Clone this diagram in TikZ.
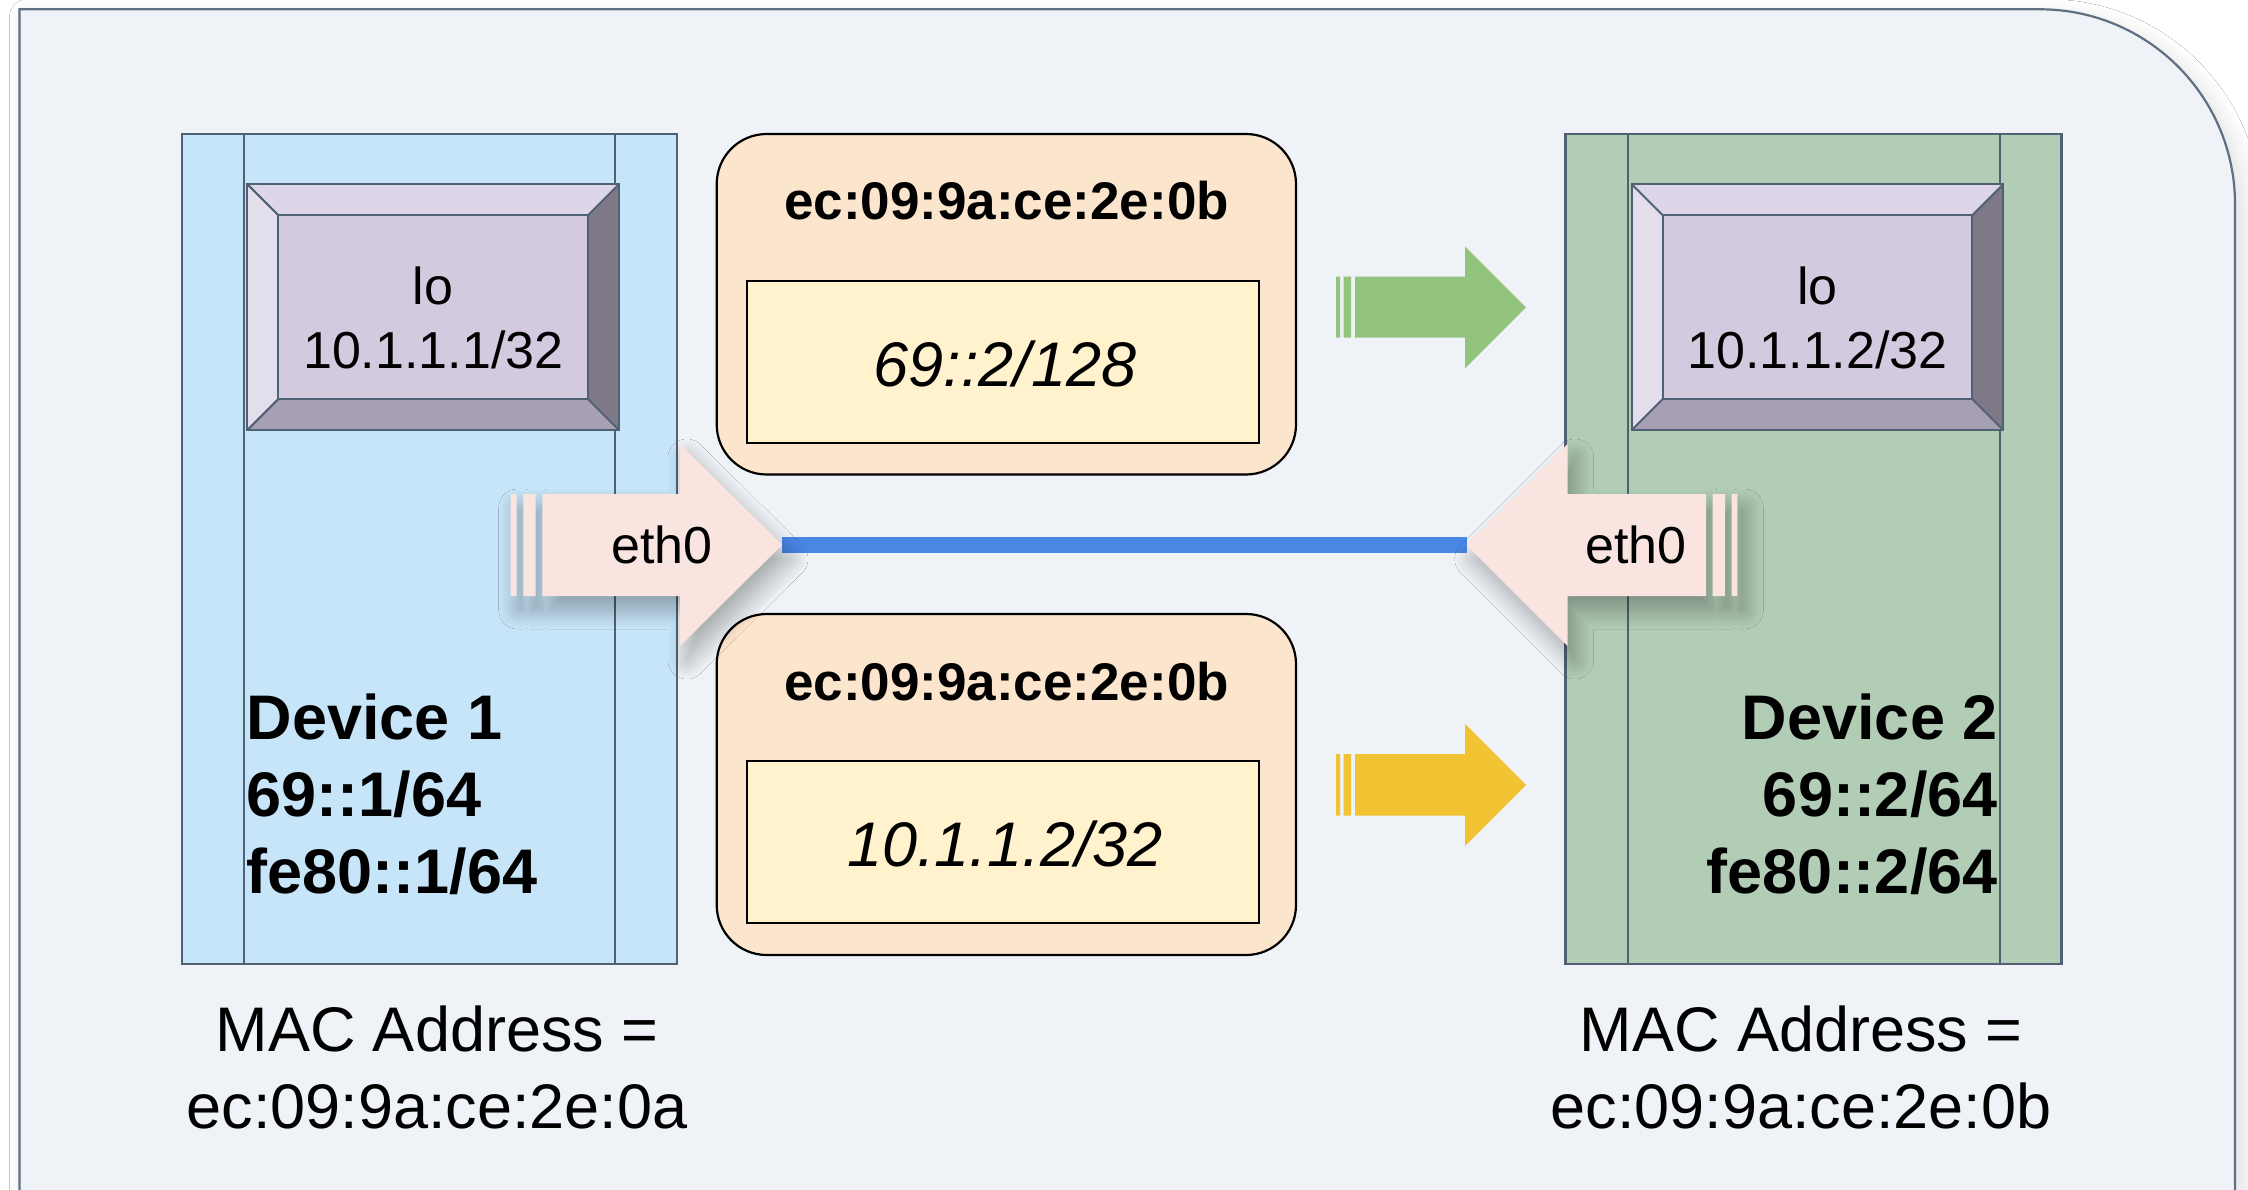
\documentclass[tikz,border=0pt]{standalone}
\usepackage{fontspec}
\setmainfont{Liberation Sans}
\usetikzlibrary{shadows.blur}

\definecolor{bgC}{RGB}{239,243,247}
\definecolor{frameC}{RGB}{95,112,130}
\definecolor{devC}{RGB}{80,97,117}
\definecolor{devOneC}{RGB}{199,229,248}
\definecolor{devTwoC}{RGB}{178,205,182}
\definecolor{bvFace}{RGB}{211,202,224}
\definecolor{bvTop}{RGB}{221,213,232}
\definecolor{bvLeft}{RGB}{227,222,236}
\definecolor{bvRight}{RGB}{127,120,135}
\definecolor{bvBottom}{RGB}{167,159,178}
\definecolor{macBoxC}{RGB}{252,229,205}
\definecolor{ipBoxC}{RGB}{255,242,204}
\definecolor{ethC}{RGB}{250,228,224}
\definecolor{linkC}{RGB}{74,134,228}
\definecolor{greenArrowC}{RGB}{147,196,125}
\definecolor{yellowArrowC}{RGB}{241,194,50}

% bevelled interface box: name, left, top, right, bottom, bevel width
\newcommand\bevelbox[6]{%
  \coordinate (#1-o1) at (#2,#3);
  \coordinate (#1-o2) at (#4,#3);
  \coordinate (#1-o3) at (#4,#5);
  \coordinate (#1-o4) at (#2,#5);
  \coordinate (#1-i1) at ({#2+#6},{#3+#6});
  \coordinate (#1-i2) at ({#4-#6},{#3+#6});
  \coordinate (#1-i3) at ({#4-#6},{#5-#6});
  \coordinate (#1-i4) at ({#2+#6},{#5-#6});
  \fill[bvTop] (#1-o1) -- (#1-o2) -- (#1-i2) -- (#1-i1) -- cycle;
  \fill[bvRight] (#1-o2) -- (#1-o3) -- (#1-i3) -- (#1-i2) -- cycle;
  \fill[bvBottom] (#1-o3) -- (#1-o4) -- (#1-i4) -- (#1-i3) -- cycle;
  \fill[bvLeft] (#1-o4) -- (#1-o1) -- (#1-i1) -- (#1-i4) -- cycle;
  \draw[bvline, fill=bvFace] (#1-i1) rectangle (#1-i3);
  \draw[bvline] (#1-o1) -- (#1-i1) (#1-o2) -- (#1-i2) (#1-o3) -- (#1-i3) (#1-o4) -- (#1-i4);
  \draw[bvline] (#1-o1) rectangle (#1-o3);
}

\begin{document}
\begin{tikzpicture}[x=1pt,y=-1pt,
  every node/.style={inner sep=0pt, outer sep=0pt},
  frame/.style={draw=frameC, line width=2.2pt, fill=bgC,
    blur shadow={shadow xshift=8pt, shadow yshift=-8pt, shadow blur radius=18pt,
      shadow blur steps=30, shadow opacity=13}},
  devbox/.style={draw=devC, line width=2.2pt, rectangle},
  devline/.style={draw=devC, line width=2pt},
  bvline/.style={draw=devC, line width=2pt},
  macbox/.style={draw=black, line width=2.2pt, fill=macBoxC, rounded corners=50pt, rectangle},
  ipbox/.style={draw=black, line width=2pt, fill=ipBoxC, rectangle},
  ethshape/.style={fill=ethC,
    blur shadow={shadow xshift=7pt, shadow yshift=-14pt, shadow blur radius=19pt,
      shadow blur steps=32, shadow opacity=32}},
  link/.style={draw=linkC, line width=15.4pt},
  lotext/.style={font=\fontsize{52}{62}\selectfont, anchor=base},
  devtext/.style={font=\bfseries\fontsize{63}{76}\selectfont},
  mactext/.style={font=\fontsize{63}{76}\selectfont, anchor=base},
  machead/.style={font=\bfseries\fontsize{53}{64}\selectfont, anchor=base},
  iptext/.style={font=\itshape\fontsize{63}{76}\selectfont, anchor=base},
  ethtext/.style={font=\fontsize{52}{62}\selectfont, anchor=base}
]
\useasboundingbox (0,0) rectangle (2248,1190);
\clip (0,0) rectangle (2248,1190);
\fill[white] (0,0) rectangle (2248,1190);

% outer container, open at the bottom
\path[frame] (19.4,1240) -- (19.4,9.3) -- (2040,9.3)
  arc[start angle=-90, end angle=0, radius=195] -- (2235,1240);

% device 1
\node[devbox, fill=devOneC, minimum width=495.4pt, minimum height=829.7pt] (dev1) at (429.3,549.15) {};
\draw[devline] ([xshift=62.3pt]dev1.north west) -- ([xshift=62.3pt]dev1.south west);
\draw[devline] ([xshift=-62.2pt]dev1.north east) -- ([xshift=-62.2pt]dev1.south east);

% device 2
\node[devbox, fill=devTwoC, minimum width=496.1pt, minimum height=829.7pt] (dev2) at (1813.45,549.15) {};
\draw[devline] ([xshift=62.5pt]dev2.north west) -- ([xshift=62.5pt]dev2.south west);
\draw[devline] ([xshift=-62pt]dev2.north east) -- ([xshift=-62pt]dev2.south east);

% loopback interfaces
\bevelbox{loOne}{247.4}{184.3}{619}{430}{31}
\bevelbox{loTwo}{1631.7}{184.3}{2003.3}{430}{31}
\node[lotext] (loOne-name) at (433.2,305) {lo};
\node[lotext] (loOne-addr) at (433.2,368) {10.1.1.1/32};
\node[lotext] (loTwo-name) at (1817.5,305) {lo};
\node[lotext] (loTwo-addr) at (1817.5,368) {10.1.1.2/32};

% device labels
\node[devtext, anchor=base west] (dev1-title) at (246.6,739) {Device 1};
\node[devtext, anchor=base west] (dev1-v6) at (246.6,816) {69::1/64};
\node[devtext, anchor=base west] (dev1-ll) at (246.6,893) {fe80::1/64};
\node[devtext, anchor=base east] (dev2-title) at (1997.6,739) {Device 2};
\node[devtext, anchor=base east] (dev2-v6) at (1997.6,816) {69::2/64};
\node[devtext, anchor=base east] (dev2-ll) at (1997.6,893) {fe80::2/64};

% MAC addresses
\node[mactext] (mac1-a) at (437,1051) {MAC Address =};
\node[mactext] (mac1-b) at (437,1128.6) {ec:09:9a:ce:2e:0a};
\node[mactext] (mac2-a) at (1801,1051) {MAC Address =};
\node[mactext] (mac2-b) at (1801,1128.6) {ec:09:9a:ce:2e:0b};

% frames sent towards device 2
\node[macbox, minimum width=579.3pt, minimum height=340.5pt] (frameA) at (1006.35,304.25) {};
\node[ipbox, minimum width=512pt, minimum height=162pt] (frameA-ip) at (1003,362) {};
\node[machead] (frameA-dst) at (1006.5,220) {ec:09:9a:ce:2e:0b};
\node[iptext] (frameA-addr) at (1005,386) {69::2/128};

\node[macbox, minimum width=579.3pt, minimum height=341pt] (frameB) at (1006.35,784.5) {};
\node[ipbox, minimum width=512pt, minimum height=162pt] (frameB-ip) at (1003,842) {};
\node[machead] (frameB-dst) at (1006.5,700) {ec:09:9a:ce:2e:0b};
\node[iptext] (frameB-addr) at (1005,866) {10.1.1.2/32};

% link between the two eth0 interfaces
\coordinate (ethL-tip) at (782,545);
\coordinate (ethR-tip) at (1466.7,545);
\draw[link] (ethL-tip) -- (ethR-tip);

% eth0 of device 1
\fill[ethshape] (510.7,494) rectangle (516.7,596)
  (523.3,494) rectangle (535.7,596)
  (542.3,494) -- (680,494) -- (680,444) -- (ethL-tip) -- (680,646) -- (680,596) -- (542.3,596) -- cycle;
\node[ethtext] (ethL) at (661.7,563) {eth0};

% eth0 of device 2
\fill[ethshape] (1737.3,494) rectangle (1731.7,596)
  (1725,494) rectangle (1712.7,596)
  (1706,494) -- (1567.7,494) -- (1567.7,444) -- (ethR-tip) -- (1567.7,646) -- (1567.7,596) -- (1706,596) -- cycle;
\node[ethtext] (ethR) at (1636,563) {eth0};

% direction arrows
\fill[greenArrowC] (1336,276.7) rectangle (1340,337.7)
  (1343.7,276.7) rectangle (1351,337.7)
  (1355,276.7) -- (1465,276.7) -- (1465,246.3) -- (1526,307.3) -- (1465,368.3) -- (1465,337.7) -- (1355,337.7) -- cycle;
\fill[yellowArrowC] (1336,754) rectangle (1340,815.7)
  (1343.7,754) rectangle (1351,815.7)
  (1355,754) -- (1465,754) -- (1465,724) -- (1526,785) -- (1465,846) -- (1465,815.7) -- (1355,815.7) -- cycle;
\end{tikzpicture}
\end{document}
